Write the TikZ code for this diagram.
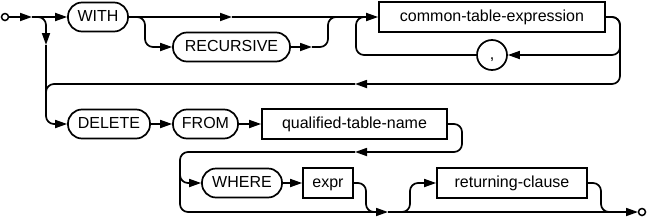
\documentclass[tikz,border=0pt]{standalone}
\usepackage{fontspec}
\setmainfont{Liberation Sans}
\usetikzlibrary{arrows.meta, positioning}

\begin{document}
\begin{tikzpicture}[
    x=1pt, y=-1pt,
    line width=1.7pt,
    txt/.style={inner sep=0pt, text height=11pt, text depth=3pt, font=\fontsize{16}{19}\selectfont},
    kw/.style={txt, draw, rounded corners=14pt, minimum height=29pt},
    rule/.style={txt, draw, minimum height=30pt},
    sym/.style={txt, draw, circle, minimum size=30pt},
    dot/.style={draw, circle, minimum size=7pt, inner sep=0pt, line width=1.5pt},
    arrow/.style={-{Triangle[length=12pt, width=8pt]}},
    rr/.style={rounded corners=8pt},
]
\useasboundingbox (0,0) rectangle (648,220);

% terminals and rules
\node[dot] (start) at (5,17) {};
\node[kw, minimum width=60pt] (with) at (98,17) {WITH};
\node[kw, minimum width=117pt] (recursive) at (231.5,47) {RECURSIVE};
\node[rule, minimum width=226pt] (cte) at (492,17) {common-table-expression};
\node[sym] (comma) at (492,55) {,};
\node[kw, minimum width=82pt] (delete) at (109,124) {DELETE};
\node[kw, minimum width=65pt] (from) at (205.5,124) {FROM};
\node[rule, minimum width=185pt] (qtn) at (354.5,124) {qualified-table-name};
\node[kw, minimum width=80pt] (where) at (242,183) {WHERE};
\node[rule, minimum width=50pt] (expr) at (328,183) {expr};
\node[rule, minimum width=150pt] (returning) at (512,183) {returning-clause};
\node[dot] (end) at (642,212) {};

% turning points
\coordinate (a1) at (32,17);
\coordinate (a2) at (46,45);
\coordinate (a3) at (232,17);
\coordinate (a4) at (312,47);
\coordinate (a5) at (355,84);
\coordinate (a6) at (355,152);
\coordinate (a7) at (388,212);
\coordinate (a8) at (638,212);

% first line
\draw[arrow] (start) -- (a1);
\draw[arrow] (a1) -- (with);
\draw[arrow, rr] (38,17) -- (46,17) -- (a2);
\draw[arrow, rr] (a2) -- (46,124) -- (delete);
\draw[arrow] (with) -- (a3);
\draw[arrow] (a3) -- (cte);
\draw[arrow, rr] (135,17) -- (145,17) -- (145,47) -- (recursive);
\draw[arrow] (recursive) -- (a4);
\draw[rr] (a4) -- (328,47) -- (328,17) -- (340,17);

% loop round common-table-expression
\draw[arrow, rr] (cte) -- (620,17) -- (620,55) -- (comma);
\draw[rr] (comma) -- (356,55) -- (356,17) -- (366,17);
\draw[arrow, rr] (610,17) -- (620,17) -- (620,84) -- (a5);
\draw[rr] (a5) -- (46,84) -- (46,100);

% second line
\draw[arrow] (delete) -- (from);
\draw[arrow] (from) -- (qtn);
\draw[arrow, rr] (qtn) -- (462,124) -- (462,152) -- (a6);
\draw[arrow, rr] (a6) -- (180,152) -- (180,212) -- (a7);
\draw[arrow, rr] (180,165) -- (180,183) -- (where);
\draw[arrow] (where) -- (expr);
\draw[rr] (expr) -- (366,183) -- (366,212) -- (378,212);
\draw[arrow, rr] (398,212) -- (410,212) -- (410,183) -- (returning);
\draw[rr] (returning) -- (601,183) -- (601,212) -- (612,212);
\draw[arrow] (a7) -- (a8);
\draw (a8) -- (end);
\end{tikzpicture}
\end{document}
